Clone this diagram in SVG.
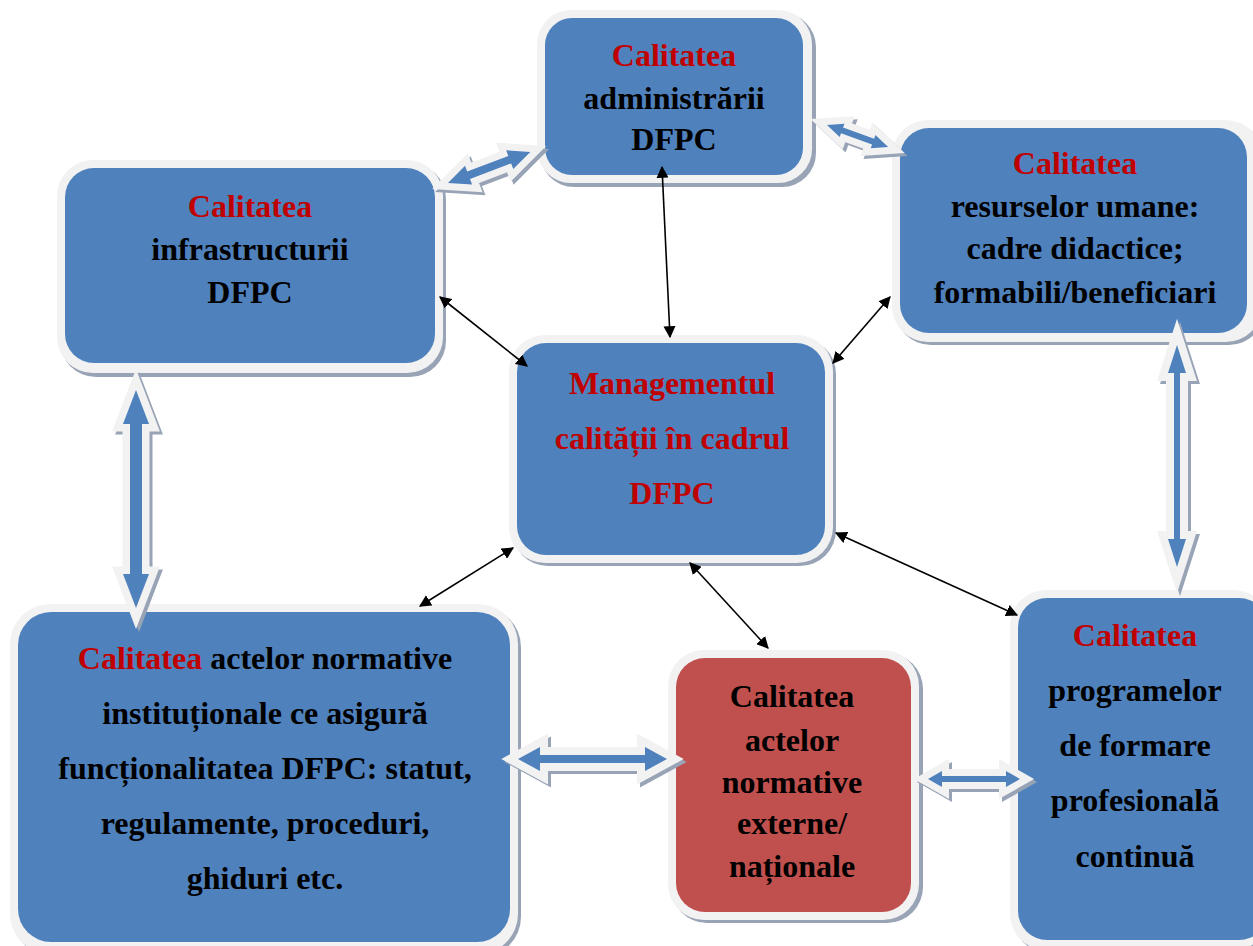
<svg xmlns="http://www.w3.org/2000/svg" width="1253" height="946" viewBox="0 0 1253 946">
<style>
.sh{fill:#98A4B6}
.rim{fill:#F2F2F2}
.blue{fill:#4F81BD}
.red{fill:#C0504D}
text{font-family:"Liberation Serif","Times New Roman",serif;font-weight:bold;font-size:32px;text-anchor:middle;fill:#000}
.r{fill:#C00000}
.as{fill:#98A4B6;stroke:#98A4B6;stroke-linejoin:miter}
.ao{fill:#F2F2F2;stroke:#F2F2F2;stroke-linejoin:miter}
.ai{fill:#4F81BD}
.ln{stroke:#000;stroke-width:1.6;fill:none;marker-start:url(#ah);marker-end:url(#ah)}
</style>
<defs>
<marker id="ah" viewBox="0 0 10 10" refX="9" refY="5" markerWidth="12" markerHeight="12" markerUnits="userSpaceOnUse" orient="auto-start-reverse">
<path d="M0,0 L10,5 L0,10 Z" fill="#000"/>
</marker>
</defs>
<rect width="1253" height="946" fill="#fff"/>

<g id="admin">
<rect class="sh" x="540" y="13" width="276" height="174" rx="34"/>
<rect class="rim" x="537" y="10" width="275" height="173" rx="34"/>
<rect class="blue" x="545" y="18" width="258" height="157" rx="27"/>
<text x="674" y="66"><tspan class="r">Calitatea</tspan></text>
<text x="674" y="109">administrării</text>
<text x="674" y="150">DFPC</text>
</g>

<g id="infra">
<rect class="sh" x="60" y="163" width="386" height="214" rx="36"/>
<rect class="rim" x="57" y="160" width="386" height="213" rx="36"/>
<rect class="blue" x="65" y="168" width="370" height="195" rx="29"/>
<text x="250" y="217"><tspan class="r">Calitatea</tspan></text>
<text x="250" y="260">infrastructurii</text>
<text x="250" y="303">DFPC</text>
</g>

<g id="resurse">
<rect class="sh" x="895" y="123" width="370" height="222" rx="36"/>
<rect class="rim" x="892" y="120" width="370" height="222" rx="36"/>
<rect class="blue" x="900" y="128" width="347" height="205" rx="29"/>
<text x="1075" y="174"><tspan class="r">Calitatea</tspan></text>
<text x="1075" y="217">resurselor umane:</text>
<text x="1075" y="259">cadre didactice;</text>
<text x="1075" y="303">formabili/beneficiari</text>
</g>

<g id="management">
<rect class="sh" x="512" y="338" width="324" height="228" rx="36"/>
<rect class="rim" x="509" y="335" width="324" height="228" rx="36"/>
<rect class="blue" x="517" y="343" width="308" height="212" rx="29"/>
<text class="r" x="672" y="394">Managementul</text>
<text class="r" x="672" y="449">calității în cadrul</text>
<text class="r" x="672" y="504">DFPC</text>
</g>

<g id="acte-interne">
<rect class="sh" x="13" y="607" width="508" height="350" rx="40"/>
<rect class="rim" x="10" y="604" width="508" height="350" rx="40"/>
<rect class="blue" x="18" y="612" width="492" height="330" rx="33"/>
<text x="265" y="669"><tspan class="r">Calitatea</tspan> actelor normative</text>
<text x="265" y="724">instituționale ce asigură</text>
<text x="265" y="779">funcționalitatea DFPC: statut,</text>
<text x="265" y="834">regulamente, proceduri,</text>
<text x="265" y="889">ghiduri etc.</text>
</g>

<g id="acte-externe">
<rect class="sh" x="671" y="653" width="252" height="270" rx="36"/>
<rect class="rim" x="668" y="650" width="251" height="270" rx="36"/>
<rect class="red" x="676" y="658" width="235" height="254" rx="29"/>
<text x="792" y="707">Calitatea</text>
<text x="792" y="751">actelor</text>
<text x="792" y="793">normative</text>
<text x="792" y="834">externe/</text>
<text x="792" y="877">naționale</text>
</g>

<g id="programe">
<rect class="sh" x="1013" y="593" width="260" height="360" rx="36"/>
<rect class="rim" x="1010" y="590" width="260" height="360" rx="36"/>
<rect class="blue" x="1018" y="598" width="250" height="342" rx="29"/>
<text x="1135" y="646"><tspan class="r">Calitatea</tspan></text>
<text x="1135" y="701">programelor</text>
<text x="1135" y="756">de formare</text>
<text x="1135" y="811">profesională</text>
<text x="1135" y="867">continuă</text>
</g>

<g id="connectors">
<g id="ba-left">
<g transform="translate(3,3)"><path class="as" stroke-width="15" transform="translate(136,390) rotate(90)" d="M0,0 L34,-13 L34,-6 L184,-6 L184,-13 L218,0 L184,13 L184,6 L34,6 L34,13 Z"/></g>
<path class="ao" stroke-width="15" transform="translate(136,390) rotate(90)" d="M0,0 L34,-13 L34,-6 L184,-6 L184,-13 L218,0 L184,13 L184,6 L34,6 L34,13 Z"/>
<path class="ai" transform="translate(136,390) rotate(90)" d="M0,0 L34,-13 L34,-6 L184,-6 L184,-13 L218,0 L184,13 L184,6 L34,6 L34,13 Z"/>
</g>
<g id="ba-right">
<g transform="translate(3,3)"><path class="as" stroke-width="16" transform="translate(1177,345) rotate(90)" d="M0,0 L28,-9 L28,-3 L194,-3 L194,-9 L222,0 L194,9 L194,3 L28,3 L28,9 Z"/></g>
<path class="ao" stroke-width="16" transform="translate(1177,345) rotate(90)" d="M0,0 L28,-9 L28,-3 L194,-3 L194,-9 L222,0 L194,9 L194,3 L28,3 L28,9 Z"/>
<path class="ai" transform="translate(1177,345) rotate(90)" d="M0,0 L28,-9 L28,-3 L194,-3 L194,-9 L222,0 L194,9 L194,3 L28,3 L28,9 Z"/>
</g>
<g id="ba-topleft">
<g transform="translate(3,3)"><path class="as" stroke-width="14" transform="translate(448,183) rotate(-20.7)" d="M0,0 L22,-10 L22,-4 L66,-4 L66,-10 L88,0 L66,10 L66,4 L22,4 L22,10 Z"/></g>
<path class="ao" stroke-width="14" transform="translate(448,183) rotate(-20.7)" d="M0,0 L22,-10 L22,-4 L66,-4 L66,-10 L88,0 L66,10 L66,4 L22,4 L22,10 Z"/>
<path class="ai" transform="translate(448,183) rotate(-20.7)" d="M0,0 L22,-10 L22,-4 L66,-4 L66,-10 L88,0 L66,10 L66,4 L22,4 L22,10 Z"/>
</g>
<g id="ba-topright">
<g transform="translate(3,3)"><path class="as" stroke-width="14" transform="translate(827,125) rotate(19.8)" d="M0,0 L16,-7 L16,-3 L49,-3 L49,-7 L65,0 L49,7 L49,3 L16,3 L16,7 Z"/></g>
<path class="ao" stroke-width="14" transform="translate(827,125) rotate(19.8)" d="M0,0 L16,-7 L16,-3 L49,-3 L49,-7 L65,0 L49,7 L49,3 L16,3 L16,7 Z"/>
<path class="ai" transform="translate(827,125) rotate(19.8)" d="M0,0 L16,-7 L16,-3 L49,-3 L49,-7 L65,0 L49,7 L49,3 L16,3 L16,7 Z"/>
</g>
<g id="ba-bottom">
<g transform="translate(3,3)"><path class="as" stroke-width="16" transform="translate(518,759)" d="M0,0 L22,-12 L22,-4 L127,-4 L127,-12 L149,0 L127,12 L127,4 L22,4 L22,12 Z"/></g>
<path class="ao" stroke-width="16" transform="translate(518,759)" d="M0,0 L22,-12 L22,-4 L127,-4 L127,-12 L149,0 L127,12 L127,4 L22,4 L22,12 Z"/>
<path class="ai" transform="translate(518,759)" d="M0,0 L22,-12 L22,-4 L127,-4 L127,-12 L149,0 L127,12 L127,4 L22,4 L22,12 Z"/>
</g>
<g id="ba-bottomright">
<g transform="translate(3,3)"><path class="as" stroke-width="14" transform="translate(928,779)" d="M0,0 L14,-8 L14,-3 L78,-3 L78,-8 L92,0 L78,8 L78,3 L14,3 L14,8 Z"/></g>
<path class="ao" stroke-width="14" transform="translate(928,779)" d="M0,0 L14,-8 L14,-3 L78,-3 L78,-8 L92,0 L78,8 L78,3 L14,3 L14,8 Z"/>
<path class="ai" transform="translate(928,779)" d="M0,0 L14,-8 L14,-3 L78,-3 L78,-8 L92,0 L78,8 L78,3 L14,3 L14,8 Z"/>
</g>
<line class="ln" x1="440" y1="297" x2="527" y2="366"/>
<line class="ln" x1="662" y1="167" x2="670" y2="337"/>
<line class="ln" x1="890" y1="297" x2="833" y2="363"/>
<line class="ln" x1="513" y1="548" x2="420" y2="606"/>
<line class="ln" x1="690" y1="563" x2="768" y2="648"/>
<line class="ln" x1="836" y1="533" x2="1017" y2="615"/>
</g>
</svg>
